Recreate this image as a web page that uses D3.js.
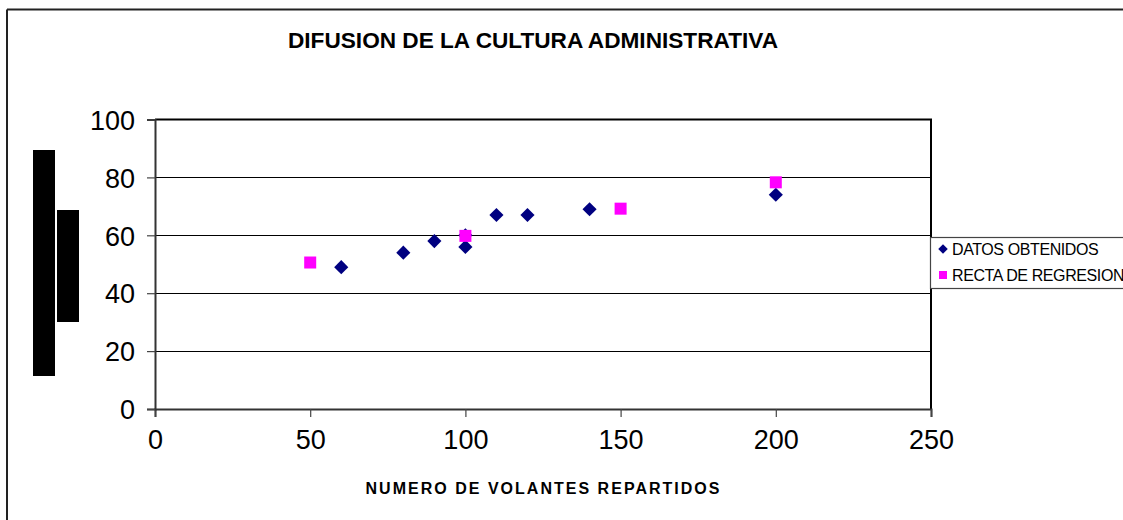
<!DOCTYPE html>
<html>
<head>
<meta charset="utf-8">
<script src="https://cdn.jsdelivr.net/npm/d3@7"></script>
<style>
	html, body { margin: 0; padding: 0; background: #fff; }
	svg { display: block; font-family: "Liberation Sans", Arial, sans-serif; }
</style>
</head>
<body>
<svg id="chart" width="1123" height="520"></svg>
<script>
// values
var datosX = [60, 80, 90, 100, 100, 110, 120, 140, 200];
var datosY = [49, 54, 58, 56, 60, 67, 67, 69, 74];
var rectaX = [50, 100, 150, 200];
var rectaY = [50.6, 59.8, 69.2, 78.3];
var xTicks = [0, 50, 100, 150, 200, 250];
var yTicks = [0, 20, 40, 60, 80, 100];
var seriesNames = ["DATOS OBTENIDOS", "RECTA DE REGRESION"];
var titleText = "DIFUSION DE LA CULTURA ADMINISTRATIVA";
var xTitle = "NUMERO DE VOLANTES REPARTIDOS";

var svg = d3.select("#chart");

// outer chart frame (only left and top edges are in view)
svg.append("line").attr("x1", 7).attr("y1", 9.5).attr("x2", 1123).attr("y2", 9.5)
	.style("stroke", "#222").style("stroke-width", 2);
svg.append("line").attr("x1", 7).attr("y1", 9.5).attr("x2", 7).attr("y2", 520)
	.style("stroke", "#222").style("stroke-width", 2);

var plotLeft = 155, plotRight = 931, plotTop = 119.5, plotBottom = 409;

var x = d3.scaleLinear().domain([0, 250]).range([plotLeft, plotRight]);
var y = d3.scaleLinear().domain([0, 100]).range([plotBottom, plotTop]);

// gridlines
svg.append("g")
	.selectAll("line")
	.data(yTicks.slice(1, -1))
	.enter().append("line")
	.attr("x1", plotLeft).attr("x2", plotRight)
	.attr("y1", function(d) { return Math.round(y(d)) + 0.5; })
	.attr("y2", function(d) { return Math.round(y(d)) + 0.5; })
	.style("stroke", "#000").style("stroke-width", 1);

// plot area border, top and right
svg.append("path")
	.attr("d", "M" + plotLeft + "," + plotTop + "H" + plotRight + "V" + plotBottom)
	.style("fill", "none").style("stroke", "#000").style("stroke-width", 2);

// axes
var xAxis = svg.append("g")
	.attr("transform", "translate(0," + plotBottom + ")")
	.call(d3.axisBottom(x).tickValues(xTicks).tickSize(8).tickPadding(13));
var yAxis = svg.append("g")
	.attr("transform", "translate(" + plotLeft + ",0)")
	.call(d3.axisLeft(y).tickValues(yTicks).tickSize(8).tickPadding(12));

[xAxis, yAxis].forEach(function(a) {
	a.select(".domain").style("stroke", "#333").style("stroke-width", 2);
	a.selectAll(".tick line").style("stroke", "#444").style("stroke-width", 1.2);
	a.selectAll(".tick text")
		.style("font-family", "'Liberation Sans', Arial, sans-serif")
		.style("font-size", "27px")
		.style("fill", "#000");
});
xAxis.selectAll(".tick text").attr("dy", "0.71em");
yAxis.selectAll(".tick text").attr("dy", "0.36em");

// redacted y axis title (rendered as two black blocks)
svg.append("rect").attr("x", 33).attr("y", 150).attr("width", 22).attr("height", 226).style("fill", "#000");
svg.append("rect").attr("x", 57).attr("y", 210).attr("width", 22).attr("height", 112).style("fill", "#000");

// titles
svg.append("text")
	.attr("x", 533).attr("y", 48)
	.attr("text-anchor", "middle")
	.attr("textLength", 490).attr("lengthAdjust", "spacingAndGlyphs")
	.style("font-size", "22px").style("font-weight", "bold")
	.text(titleText);

svg.append("text")
	.attr("x", 542.5).attr("y", 493.5)
	.attr("text-anchor", "middle")
	.attr("textLength", 354).attr("lengthAdjust", "spacing")
	.style("font-size", "16px").style("font-weight", "bold")
	.text(xTitle);

// points
var datos = datosX.map(function(d, i) { return {x: d, y: datosY[i]}; });
var recta = rectaX.map(function(d, i) { return {x: d, y: rectaY[i]}; });

var diamond = d3.symbol().type(d3.symbolSquare).size(100);

svg.append("g").selectAll("path")
	.data(datos)
	.enter().append("path")
	.attr("d", diamond)
	.attr("transform", function(d) { return "translate(" + x(d.x) + "," + y(d.y) + ") rotate(45)"; })
	.style("fill", "#000080");

svg.append("g").selectAll("rect")
	.data(recta)
	.enter().append("rect")
	.attr("x", function(d) { return x(d.x) - 6; })
	.attr("y", function(d) { return y(d.y) - 6; })
	.attr("width", 12).attr("height", 12)
	.style("fill", "#ff00ff");

// legend
var legend = svg.append("g").attr("transform", "translate(930,237)");
legend.append("rect")
	.attr("x", 0.5).attr("y", 0.5).attr("width", 200).attr("height", 51)
	.style("fill", "#fff").style("stroke", "#444").style("stroke-width", 1.2);

var items = legend.selectAll(".item")
	.data(seriesNames)
	.enter().append("g")
	.attr("class", "item")
	.attr("transform", function(d, i) { return "translate(13," + (12 + i * 26) + ")"; });

items.append("path")
	.attr("d", function(d, i) { return i == 0 ? d3.symbol().type(d3.symbolSquare).size(45)() : "M-4,-4H4V4H-4Z"; })
	.attr("transform", function(d, i) { return i == 0 ? "rotate(45)" : ""; })
	.style("fill", function(d, i) { return i == 0 ? "#000080" : "#ff00ff"; });

items.append("text")
	.attr("x", 9).attr("y", 5.5)
	.style("font-size", "16px")
	.style("letter-spacing", "-0.4px")
	.text(function(d) { return d; });
</script>
</body>
</html>
